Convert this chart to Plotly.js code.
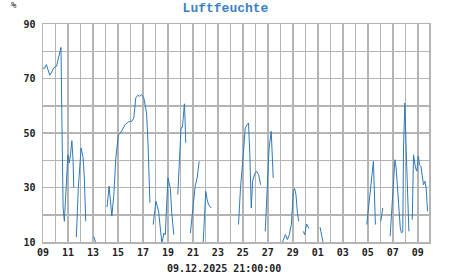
<!DOCTYPE html>
<html>
<head>
<meta charset="utf-8">
<script src="https://cdn.plot.ly/plotly-3.0.1.min.js"></script>
<style>html,body{margin:0;padding:0;background:#fff;}#chart{width:451px;height:275px;}</style>
</head>
<body>
<div id="chart"></div>
<script>
// x: days since 09.12.2025 21:00; null = missing data
const days = [
 0,0.1,0.27,0.4,0.54,0.7,0.86,1.08,1.24,1.35,1.44,
 1.5,1.55,1.61,1.71,1.83,1.99,2.1,2.2,2.31,2.41,2.46,
 2.5,
 2.67,2.83,3.05,3.21,3.31,3.42,
 3.5,
 4.06,4.15,4.28,4.4,
 4.7,
 5.13,5.29,5.51,5.67,5.83,6.04,6.2,6.36,6.58,6.84,7.11,7.27,7.43,7.59,7.75,7.91,8.07,8.29,8.4,8.56,
 8.7,
 8.82,9.04,9.25,9.41,9.52,9.68,9.79,10.0,10.2,10.3,10.47,
 10.6,
 10.79,10.95,11.05,11.16,11.27,11.32,11.37,11.43,
 11.6,
 11.8,12.0,12.18,12.34,12.5,
 12.7,
 12.82,13.03,13.14,13.25,13.46,
 14.5,
 15.65,15.81,16.03,16.19,16.35,16.45,16.56,16.67,16.78,16.94,17.1,17.26,17.42,
 17.6,
 17.79,17.95,18.1,18.27,18.43,
 18.8,
 19.13,19.3,19.4,19.56,19.72,19.88,20.04,20.14,20.25,20.36,20.47,
 20.65,
 20.84,20.95,21.1,21.2,21.3,
 21.7,
 22.18,22.28,22.39,22.5,
 24,
 25.92,26.08,26.24,26.4,26.45,26.61,
 26.8,
 27.04,27.2,
 27.5,
 27.79,27.95,28.06,28.17,28.27,28.38,28.49,28.6,28.7,28.8,28.86,28.97,29.07,29.18,29.29,
 29.45,
 29.56,29.66,29.82,29.93,30.04,30.14,30.25,30.35,30.46,30.57,30.67,30.78
];
const humidity = [
 73.9,73.6,75.1,73.3,71.2,72.4,73.9,74.5,77.5,79,81.4,
 59,44.5,22.5,17.6,29.9,42,39,42,47.2,39.6,30,
 null,
 11.8,30,44.5,41,33.5,17.6,
 null,
 12,11,9,
 null, null,
 22.8,30.5,19.5,27.4,40.9,49.4,50,51.2,53.1,54.1,54.3,55.5,62.9,63.8,63.5,64.1,62.9,57.4,47,24.4,
 null,
 16.4,25,21.3,14,9.5,13.3,12.7,33.5,29.6,21,12.7,
 null,
 27.4,42,51.9,52.1,56.7,60.7,55.5,46.4,
 null,
 13.3,22.4,30.4,33.5,39.6,
 null,
 9.5,28.6,25.6,23.7,22.5,
 null,
 16.4,29.9,42,51.9,53.1,53.7,42,22.5,32.3,35,36,34.7,31,
 null,
 13.9,32.3,44.5,50.6,33.5,
 null,
 9.5,11.5,12.7,10.9,12.7,16.4,28.6,29.6,27.4,21,17.6,
 null,
 13.9,12.7,16.6,15.4,14.9,
 null,
 15.4,12.7,10,8,
 null,
 16.4,23.7,31,37.2,39.6,16.4,
 null,
 17.6,22.5,
 null,
 12.1,22.5,32.3,40.2,37.2,31,22.5,15.2,13.3,13.9,44.5,61,44.5,26.2,13.9,
 null,
 18.2,42,37.2,36,41.5,38.4,37.8,34.7,31,32.3,29.9,21.3
];
const tickDays = [0,2,4,6,8,10,12,14,16,18,20,22,24,26,28,30];
const tickLabels = ['09','11','13','15','17','19','21','23','25','27','29','01','03','05','07','09'];
const yTicks = [10,30,50,70,90];
const chartTitle = 'Luftfeuchte';
const unitLabel = '%';
const timestampLabel = '09.12.2025 21:00:00';

const gridCol = '#b4b4b4';
const monoBold = {family: 'DejaVu Sans Mono, monospace', size: 10, color: '#222', weight: 'bold'};

Plotly.newPlot('chart', [{
  x: days, y: humidity, type: 'scatter', mode: 'lines',
  connectgaps: false,
  line: {color: '#2f79b8', width: 1},
  hoverinfo: 'skip'
}], {
  width: 451, height: 275,
  margin: {l: 43, r: 22, t: 24, b: 33},
  paper_bgcolor: '#fff', plot_bgcolor: '#fff',
  showlegend: false,
  title: {text: '<b>' + chartTitle + '</b>', x: 0.5, xanchor: 'center', y: 0.99, yanchor: 'top',
          font: {family: 'Liberation Mono, Courier New, monospace', size: 13, color: '#3a82c4'}},
  xaxis: {
    range: [0, 30.9], tickmode: 'array', tickvals: tickDays, ticktext: tickLabels,
    showgrid: true, gridcolor: gridCol, gridwidth: 1.5,
    minor: {dtick: 1, tick0: 0, showgrid: true, gridcolor: gridCol, gridwidth: 1.5},
    zeroline: false, showline: true, linecolor: gridCol, linewidth: 1.5, mirror: true,
    ticks: '', tickfont: monoBold, fixedrange: true
  },
  yaxis: {
    range: [10, 90], tickmode: 'array', tickvals: yTicks,
    showgrid: true, gridcolor: gridCol, gridwidth: 1.5,
    minor: {dtick: 10, tick0: 10, showgrid: true, gridcolor: gridCol, gridwidth: 1.5},
    zeroline: false, showline: true, linecolor: gridCol, linewidth: 1.5, mirror: true,
    ticks: '', tickfont: monoBold, ticklabelstandoff: 4, fixedrange: true
  },
  annotations: [
    {text: unitLabel, xref: 'paper', yref: 'paper', x: -0.075, y: 1.085, xanchor: 'center', yanchor: 'middle',
     showarrow: false, font: {family: 'DejaVu Sans Mono, monospace', size: 9, color: '#222'}},
    {text: timestampLabel, xref: 'paper', yref: 'paper', x: 0.47, y: -0.085, xanchor: 'center', yanchor: 'top',
     showarrow: false, font: {family: 'DejaVu Sans Mono, monospace', size: 10, color: '#222', weight: 'bold'}}
  ]
}, {staticPlot: true, displayModeBar: false});
</script>
</body>
</html>
